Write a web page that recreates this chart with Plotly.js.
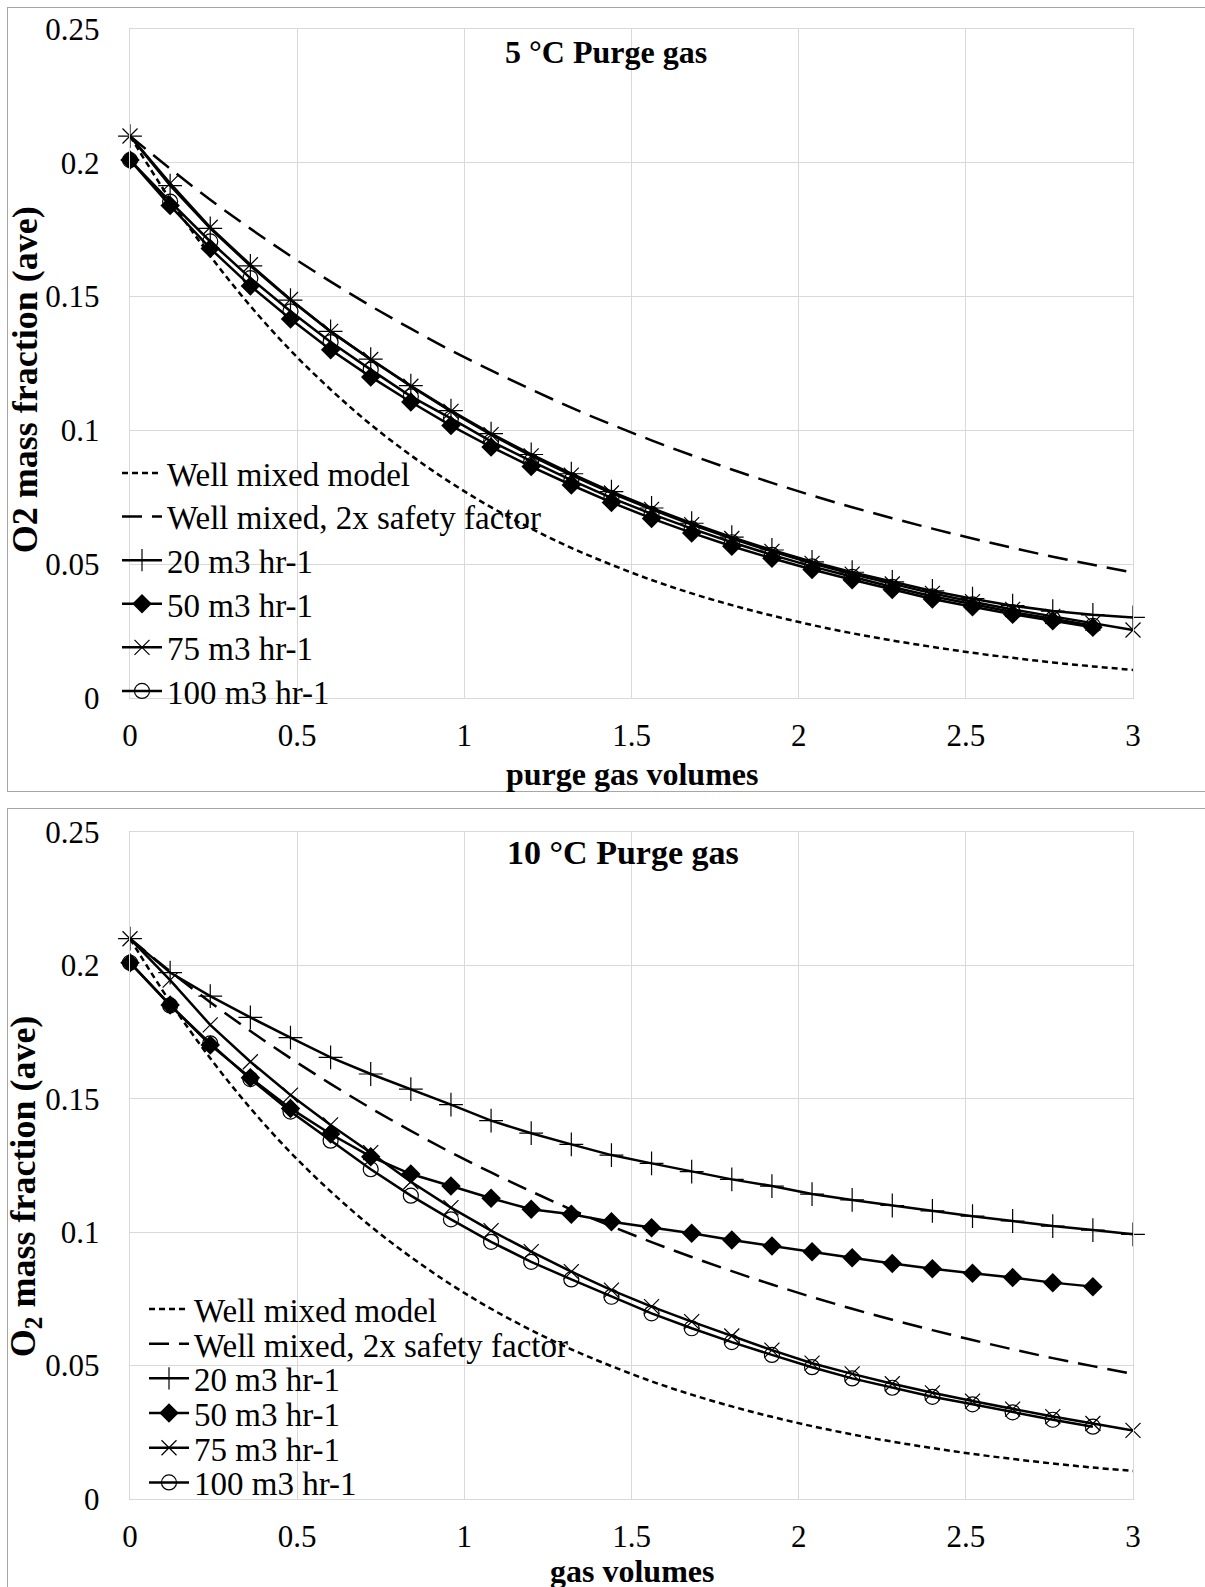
<!DOCTYPE html>
<html>
<head>
<meta charset="utf-8">
<script src="https://cdn.plot.ly/plotly-3.0.1.min.js"></script>
<style>
  html, body { margin: 0; padding: 0; background: #fff; overflow: hidden; width: 1205px; height: 1587px; }
  .frame { position: absolute; border: 1.5px solid #a6a6a6; box-sizing: border-box; }
  #frameTop { left: 7px; top: 7px; width: 1300px; height: 785px; }
  #frameBottom { left: 7px; top: 808px; width: 1300px; height: 900px; }
  .chart { position: absolute; left: 0; width: 1205px; }
  #chartTop { top: 0; height: 800px; }
  #chartBottom { top: 800px; height: 787px; }
</style>
</head>
<body>
<div class="frame" id="frameTop"></div>
<div class="frame" id="frameBottom"></div>
<div class="chart" id="chartTop"></div>
<div class="chart" id="chartBottom"></div>
<script>
// Purge gas volumes at which the O2 mass fraction was sampled
const volumes = [0, 0.12, 0.24, 0.36, 0.48, 0.6, 0.72, 0.84, 0.96, 1.08, 1.2, 1.32, 1.44,
                 1.56, 1.68, 1.8, 1.92, 2.04, 2.16, 2.28, 2.4, 2.52, 2.64, 2.76, 2.88, 3.0];

// Well mixed model curves (same in both panels)
const wellMixed = [0.21, 0.1863, 0.1652, 0.1465, 0.1299, 0.1153, 0.1022, 0.0907, 0.0804, 0.0713,
                   0.0633, 0.0561, 0.0498, 0.0441, 0.0391, 0.0347, 0.0308, 0.0273, 0.0242, 0.0215,
                   0.0191, 0.0169, 0.0150, 0.0133, 0.0118, 0.0105];
const wellMixed2x = [0.21, 0.1978, 0.1862, 0.1754, 0.1652, 0.1556, 0.1465, 0.1380, 0.1299, 0.1224,
                     0.1153, 0.1085, 0.1022, 0.0963, 0.0907, 0.0854, 0.0804, 0.0757, 0.0713, 0.0672,
                     0.0633, 0.0596, 0.0561, 0.0528, 0.0498, 0.0469];

// 5 °C purge gas
const cold20 = [0.21, 0.1915, 0.1755, 0.1615, 0.1487, 0.1370, 0.1266, 0.1167, 0.1074, 0.0988,
                0.0910, 0.0838, 0.0771, 0.0710, 0.0653, 0.0601, 0.0553, 0.0509, 0.0470, 0.0434,
                0.0400, 0.0371, 0.0345, 0.0325, 0.0311, 0.0301];
const cold50 = [0.201, 0.184, 0.168, 0.154, 0.1416, 0.1301, 0.1200, 0.1106, 0.1018, 0.0938,
                0.0865, 0.0796, 0.0731, 0.0671, 0.0617, 0.0567, 0.0522, 0.0480, 0.0442, 0.0405,
                0.0370, 0.0341, 0.0313, 0.0289, 0.0264];
const cold75 = [0.21, 0.1923, 0.1759, 0.1619, 0.1489, 0.1370, 0.1265, 0.1165, 0.1071, 0.0984,
                0.0905, 0.0833, 0.0766, 0.0705, 0.0648, 0.0596, 0.0548, 0.0503, 0.0463, 0.0426,
                0.0391, 0.0360, 0.0331, 0.0305, 0.0280, 0.0254];
const cold100 = [0.201, 0.1855, 0.1706, 0.1569, 0.1445, 0.1330, 0.1227, 0.1127, 0.1045, 0.0959,
                 0.0885, 0.0814, 0.0748, 0.0688, 0.0633, 0.0582, 0.0535, 0.0492, 0.0453, 0.0415,
                 0.0380, 0.0350, 0.0321, 0.0296, 0.0270];

// 10 °C purge gas
const warm20 = [0.21, 0.1973, 0.1885, 0.1805, 0.1729, 0.1655, 0.1593, 0.1536, 0.1478, 0.1418,
                0.1371, 0.1329, 0.1289, 0.1258, 0.1227, 0.1198, 0.1173, 0.1143, 0.1121, 0.1100,
                0.1080, 0.1060, 0.1042, 0.1023, 0.1008, 0.0992];
const warm50 = [0.201, 0.1852, 0.1702, 0.1579, 0.1464, 0.1368, 0.1283, 0.1218, 0.1173, 0.1127,
                0.1086, 0.1067, 0.1039, 0.1017, 0.0996, 0.0971, 0.0948, 0.0927, 0.0904, 0.0883,
                0.0863, 0.0846, 0.0830, 0.0811, 0.0796];
const warm75 = [0.21, 0.1945, 0.1777, 0.1639, 0.1514, 0.1402, 0.1298, 0.1189, 0.1092, 0.1006,
                0.0927, 0.0852, 0.0783, 0.0721, 0.0665, 0.0611, 0.0558, 0.0509, 0.0469, 0.0432,
                0.0398, 0.0367, 0.0337, 0.0309, 0.0283, 0.0257];
const warm100 = [0.201, 0.185, 0.1708, 0.1574, 0.1452, 0.1343, 0.1236, 0.1137, 0.1048, 0.0964,
                 0.0889, 0.0823, 0.0758, 0.0696, 0.0640, 0.0588, 0.0540, 0.0494, 0.0452, 0.0417,
                 0.0383, 0.0355, 0.0325, 0.0297, 0.0271];

const seriesNames = ['Well mixed model', 'Well mixed, 2x safety factor',
                     '20 m3 hr-1', '50 m3 hr-1', '75 m3 hr-1', '100 m3 hr-1'];
const xTicks = [0, 0.5, 1, 1.5, 2, 2.5, 3];
const yTicks = [0, 0.05, 0.1, 0.15, 0.2, 0.25];

const FONT = 'Liberation Serif, Times New Roman, serif';
const legendIds = ['legend', 'legend2', 'legend3', 'legend4', 'legend5', 'legend6'];

function traces(s20, s50, s75, s100) {
  const marker = (symbol, size, open) => ({
    symbol: symbol, size: size, color: '#000',
    line: { width: open ? 1.2 : 0, color: '#000' }
  });
  const solid = { color: '#000', width: 2.5 };
  return [
    { x: volumes, y: wellMixed, mode: 'lines',
      line: { color: '#000', width: 2.5, dash: '6px,4px', shape: 'spline' } },
    { x: volumes, y: wellMixed2x, mode: 'lines',
      line: { color: '#000', width: 2.5, dash: '20px,10px', shape: 'spline' } },
    { x: volumes.slice(0, s20.length), y: s20, mode: 'lines+markers', line: solid,
      marker: marker('cross-thin', 17, true) },
    { x: volumes.slice(0, s50.length), y: s50, mode: 'lines+markers', line: solid,
      marker: marker('diamond', 15, false) },
    { x: volumes.slice(0, s75.length), y: s75, mode: 'lines+markers', line: solid,
      marker: marker('x-thin', 15, true) },
    { x: volumes.slice(0, s100.length), y: s100, mode: 'lines+markers', line: solid,
      marker: marker('circle-open', 15, true) }
  ].map((t, i) => Object.assign(t, {
    type: 'scatter', name: seriesNames[i], legend: legendIds[i], cliponaxis: false
  }));
}

function axis(range, ticks) {
  return {
    range: range, tickvals: ticks, fixedrange: true,
    showgrid: true, gridcolor: '#d9d9d9', gridwidth: 1.3,
    showline: true, linecolor: '#d9d9d9', linewidth: 1.3, mirror: true,
    zeroline: false, ticks: '',
    tickfont: { family: FONT, size: 31, color: '#000' }
  };
}

function layout(o) {
  const plotH = o.height - o.margin.t - o.margin.b;
  const plotW = 1205 - o.margin.l - o.margin.r;
  const L = {
    width: 1205, height: o.height, margin: o.margin,
    paper_bgcolor: 'rgba(0,0,0,0)', plot_bgcolor: 'rgba(0,0,0,0)',
    font: { family: FONT, color: '#000' },
    xaxis: Object.assign(axis([0, 3], xTicks), { ticklabelstandoff: 9 }),
    yaxis: Object.assign(axis([0, 0.25], yTicks), { ticklabelstandoff: 23 }),
    showlegend: true,
    annotations: [
      { text: '<b>' + o.title + '</b>', xref: 'paper', yref: 'paper',
        x: o.titleX, y: o.titleY, xanchor: 'center', yanchor: 'middle', showarrow: false,
        font: { family: FONT, size: o.titleSize, color: '#000' } },
      { text: '<b>' + o.xTitle + '</b>', xref: 'paper', yref: 'paper',
        x: 0.5, y: o.xTitleY, xanchor: 'center', yanchor: 'middle', showarrow: false,
        font: { family: FONT, size: 32, color: '#000' } },
      { text: '<b>' + o.yTitle + '</b>', xref: 'paper', yref: 'paper', textangle: -90,
        x: -105 / plotW, y: o.yTitleY, xanchor: 'center', yanchor: 'middle', showarrow: false,
        font: { family: FONT, size: 36, color: '#000' } }
    ]
  };
  o.legendPx.forEach((py, i) => {
    L[legendIds[i]] = {
      x: (o.legendLeft - o.margin.l) / plotW, xanchor: 'left',
      y: (o.height - o.margin.b - py) / plotH, yanchor: 'middle',
      bgcolor: 'rgba(0,0,0,0)', borderwidth: 0, itemwidth: 40,
      font: { family: FONT, size: 33, color: '#000' }
    };
  });
  return L;
}

const config = { staticPlot: true, displayModeBar: false };

Plotly.newPlot('chartTop', traces(cold20, cold50, cold75, cold100), layout({
  height: 800, margin: { l: 130, r: 72, t: 29, b: 102 },
  title: '5 °C Purge gas', titleX: 0.4746, titleY: 0.9656, titleSize: 32,
  xTitle: 'purge gas volumes', xTitleY: -0.1136,
  yTitle: 'O2 mass fraction (ave)', yTitleY: 0.475,
  legendLeft: 117, legendPx: [473, 516.6, 560.2, 603.8, 647.4, 691]
}), config);

Plotly.newPlot('chartBottom', traces(warm20, warm50, warm75, warm100), layout({
  height: 787, margin: { l: 130, r: 72, t: 32, b: 88 },
  title: '10 °C Purge gas', titleX: 0.492, titleY: 0.970, titleSize: 34,
  xTitle: 'gas volumes', xTitleY: -0.108,
  yTitle: 'O<sub>2</sub> mass fraction (ave)', yTitleY: 0.469,
  legendLeft: 144, legendPx: [509, 543.7, 578.4, 613.1, 647.8, 682.5]
}), config);
</script>
</body>
</html>
